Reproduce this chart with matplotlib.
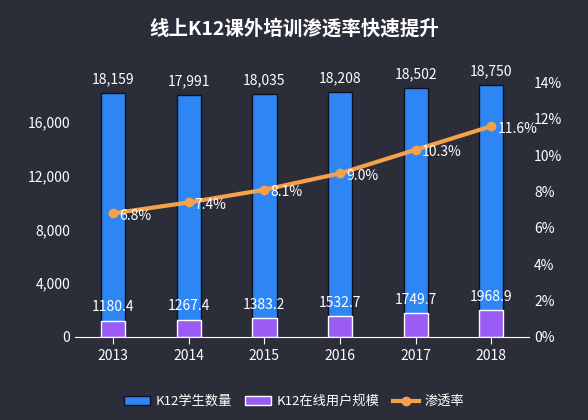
import numpy as np
import matplotlib.pyplot as plt
from matplotlib.ticker import FuncFormatter

plt.rcParams['font.family'] = ['Noto Sans CJK SC', 'DejaVu Sans']

years = ['2013', '2014', '2015', '2016', '2017', '2018']
students = [18159, 17991, 18035, 18208, 18502, 18750]
online_users = [1180.4, 1267.4, 1383.2, 1532.7, 1749.7, 1968.9]
rate = [6.8, 7.4, 8.1, 9.0, 10.3, 11.6]

bg = '#2b2d38'
fig = plt.figure(figsize=(5.88, 4.2), dpi=100, facecolor=bg)
ax = fig.add_axes([0.128, 0.198, 0.772, 0.64], facecolor=bg)
ax2 = ax.twinx()

x = np.arange(len(years))
w = 0.32
b1 = ax.bar(x, students, w, color='#2e86f5', edgecolor='#101020', linewidth=1, label='K12学生数量')
b2 = ax.bar(x, online_users, w, color='#9b5cf6', edgecolor='white', linewidth=1, label='K12在线用户规模')
for i in range(len(x)):
    ax.text(x[i], students[i] + 500, f'{students[i]:,}', ha='center', va='bottom', color='white', fontsize=10)
    ax.text(x[i], online_users[i] + 500, f'{online_users[i]}', ha='center', va='bottom', color='white', fontsize=10)

ln, = ax2.plot(x, rate, color='#f5a04a', linewidth=3, marker='o', markersize=6, label='渗透率')
for i in range(len(x)):
    ax2.text(x[i] + 0.08, rate[i] - 0.15, f'{rate[i]}%', ha='left', va='center', color='white', fontsize=10)

ax.set_ylim(0, 20000)
ax.set_yticks([0, 4000, 8000, 12000, 16000])
ax.yaxis.set_major_formatter(FuncFormatter(lambda v, p: f'{int(v):,}'))
ax2.set_ylim(0, 14.8)
ax2.set_yticks(range(0, 15, 2))
ax2.yaxis.set_major_formatter(FuncFormatter(lambda v, p: f'{int(v)}%'))
ax.set_xticks(x)
ax.set_xticklabels(years)
ax.set_xlim(-0.5, 5.5)

for a in (ax, ax2):
    for s in a.spines.values():
        s.set_visible(False)
    a.tick_params(colors='white', labelsize=10, length=0)
ax.spines['bottom'].set_visible(True)
ax.spines['bottom'].set_color('white')
ax.tick_params(axis='x', length=5, color='white')

fig.suptitle('线上K12课外培训渗透率快速提升', color='white', fontsize=14, fontweight='bold', y=0.955)
fig.legend(handles=[b1, b2, ln], loc='lower center', ncol=3, frameon=False,
           labelcolor='white', fontsize=9.5, bbox_to_anchor=(0.5, 0.0), handlelength=2,
           columnspacing=1.0, handletextpad=0.4)

fig.savefig('out.png', dpi=100, facecolor=bg)
